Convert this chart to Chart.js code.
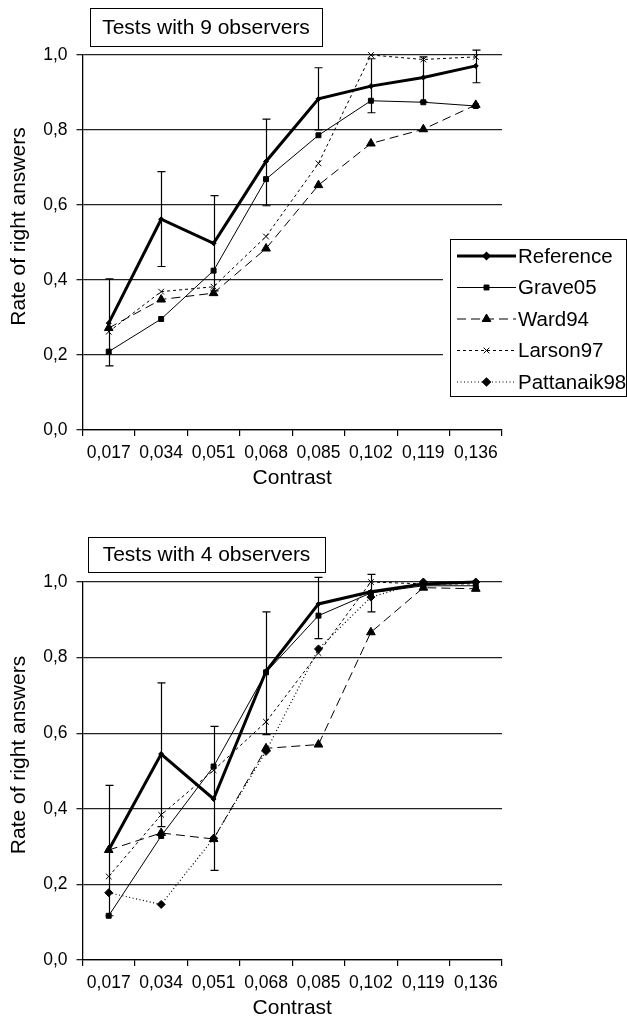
<!DOCTYPE html>
<html>
<head>
<meta charset="utf-8">
<script src="https://cdn.jsdelivr.net/npm/chart.js@4.4.1/dist/chart.umd.min.js"></script>
<style>
  html, body { margin: 0; padding: 0; background: #fff; }
  #wrap { position: relative; width: 627px; height: 1021px; overflow: hidden; }
  canvas { position: absolute; left: 0; }
</style>
</head>
<body>
<div id="wrap">
  <canvas id="chart9" width="627" height="491" style="top:0"></canvas>
  <canvas id="chart4" width="627" height="530" style="top:491px"></canvas>
</div>
<script>
// categories and tick labels
const contrast = ['0,017', '0,034', '0,051', '0,068', '0,085', '0,102', '0,119', '0,136']
const yTickLabels = ['0,0', '0,2', '0,4', '0,6', '0,8', '1,0']

// tests with 9 observers
const ref9 = [0.285, 0.562, 0.498, 0.716, 0.883, 0.917, 0.940, 0.971]
const ref9Low = [0.171, 0.436, 0.371, 0.598, 0.800, 0.846, 0.875, 0.926]
const ref9High = [0.403, 0.689, 0.625, 0.829, 0.966, 0.990, 0.995, 1.013]
const grave9 = [0.209, 0.296, 0.425, 0.669, 0.786, 0.878, 0.874, 0.864]
const ward9 = [0.272, 0.348, 0.365, 0.484, 0.653, 0.764, 0.802, 0.867]
const larson9 = [0.262, 0.369, 0.382, 0.516, 0.711, 1.000, 0.988, 0.995]
const pattanaik9 = [null, null, null, null, null, null, null, null]

// tests with 4 observers
const ref4 = [0.291, 0.545, 0.426, 0.764, 0.942, 0.974, 0.995, 1.000]
const ref4Low = [0.117, 0.353, 0.237, 0.596, 0.850, 0.921, null, null]
const ref4High = [0.462, 0.733, 0.618, 0.921, 1.012, 1.020, null, null]
const grave4 = [0.117, 0.328, 0.512, 0.761, 0.911, 0.971, 0.990, 0.990]
const ward4 = [0.291, 0.336, 0.320, 0.560, 0.570, 0.867, 0.985, 0.982]
const larson4 = [0.221, 0.384, 0.502, 0.630, 0.812, 1.000, 0.995, 0.995]
const pattanaik4 = [0.178, 0.147, 0.322, 0.552, 0.823, 0.960, 1.000, 1.000]

const FONT = '"Liberation Sans", Arial, sans-serif'
Chart.defaults.font.family = FONT
Chart.defaults.font.size = 17.5
Chart.defaults.color = '#000'

// vertical error bars with caps on the Reference series
const errorBars = {
  id: 'errorBars',
  afterDatasetsDraw(chart, args, opts) {
    if (!opts.low) return
    const { ctx, scales: { x, y } } = chart
    ctx.save()
    ctx.strokeStyle = '#000'
    ctx.lineWidth = 1.2
    opts.low.forEach((lo, i) => {
      const hi = opts.high[i]
      if (lo == null || hi == null) return
      const px = Math.round(x.getPixelForValue(i)) + 0.5
      const y1 = y.getPixelForValue(lo)
      const y2 = y.getPixelForValue(hi)
      ctx.beginPath()
      ctx.moveTo(px, y1); ctx.lineTo(px, y2)
      ctx.moveTo(px - 4, y1); ctx.lineTo(px + 4, y1)
      ctx.moveTo(px - 4, y2); ctx.lineTo(px + 4, y2)
      ctx.stroke()
    })
    ctx.restore()
  }
}

// framed title in the top-left corner, plus the rotated y axis title
const boxTitle = {
  id: 'boxTitle',
  afterDraw(chart, args, opts) {
    if (!opts.text) return
    const ctx = chart.ctx
    const [x1, y1, x2, y2] = opts.box
    ctx.save()
    ctx.fillStyle = '#fff'
    ctx.fillRect(x1, y1, x2 - x1, y2 - y1)
    ctx.strokeStyle = '#000'
    ctx.lineWidth = 1
    ctx.strokeRect(x1 + 0.5, y1 + 0.5, x2 - x1, y2 - y1)
    ctx.fillStyle = '#000'
    ctx.font = '21px ' + FONT
    ctx.textAlign = 'center'
    ctx.textBaseline = 'middle'
    ctx.fillText(opts.text, (x1 + x2) / 2, (y1 + y2) / 2 + 1)

    // y axis title sits a little above the middle of the plot
    const area = chart.chartArea
    ctx.translate(19, (area.top + area.bottom) / 2 - 16)
    ctx.rotate(-Math.PI / 2)
    ctx.fillText(opts.yTitle, 0, 0)
    ctx.restore()
  }
}

// framed legend drawn over the plot
const boxLegend = {
  id: 'boxLegend',
  afterDraw(chart, args, opts) {
    if (!opts.box) return
    const ctx = chart.ctx
    const [x1, y1, x2, y2] = opts.box
    ctx.save()
    ctx.fillStyle = '#fff'
    ctx.fillRect(x1 - 7, y1, x2 - x1 + 7, y2 - y1)
    ctx.strokeStyle = '#000'
    ctx.lineWidth = 1
    ctx.strokeRect(x1 + 0.5, y1 + 0.5, x2 - x1 - 1, y2 - y1)
    ctx.font = '20.5px ' + FONT
    ctx.textAlign = 'left'
    ctx.textBaseline = 'middle'
    chart.data.datasets.forEach((ds, i) => {
      const yy = opts.rowTop + i * opts.rowStep
      ctx.strokeStyle = '#000'
      ctx.fillStyle = '#000'
      ctx.lineWidth = ds.borderWidth
      ctx.setLineDash(ds.borderDash || [])
      ctx.beginPath()
      ctx.moveTo(x1 + 7, yy); ctx.lineTo(x1 + 66, yy)
      ctx.stroke()
      ctx.setLineDash([])
      Chart.helpers.drawPoint(ctx, {
        pointStyle: ds.pointStyle, radius: ds.pointRadius, borderWidth: 1, rotation: 0
      }, x1 + 36.5, yy)
      ctx.fillText(ds.label, x1 + 68, yy + 1)
    })
    ctx.restore()
  }
}

function makeDatasets(ref, grave, ward, larson, pattanaik) {
  const base = { borderColor: '#000', backgroundColor: '#000', pointBorderColor: '#000',
    pointBackgroundColor: '#000', tension: 0, clip: false, pointBorderWidth: 1 }
  return [
    { ...base, label: 'Reference', data: ref, borderWidth: 3, pointStyle: 'rectRot', pointRadius: 2.5 },
    { ...base, label: 'Grave05', data: grave, borderWidth: 1, pointStyle: 'rect', pointRadius: 3.5 },
    { ...base, label: 'Ward94', data: ward, borderWidth: 1, borderDash: [9, 5], pointStyle: 'triangle', pointRadius: 5 },
    { ...base, label: 'Larson97', data: larson, borderWidth: 1, borderDash: [3, 3], pointStyle: 'crossRot', pointRadius: 4 },
    { ...base, label: 'Pattanaik98', data: pattanaik, borderWidth: 1.2, borderDash: [1, 2.5], pointStyle: 'rectRot', pointRadius: 4 }
  ]
}

function makeOptions(padTop, extraPlugins) {
  return {
    responsive: false,
    animation: false,
    layout: { padding: { top: padTop, right: 125, left: 0, bottom: 0 } },
    plugins: {
      legend: { display: false },
      tooltip: { enabled: false },
      ...extraPlugins
    },
    scales: {
      x: {
        offset: true,
        grid: { display: true, drawOnChartArea: false, offset: true, tickLength: 6, color: '#000', lineWidth: 1.2 },
        border: { display: true, color: '#000', width: 1.3 },
        ticks: { padding: 6.5, maxRotation: 0, autoSkip: false },
        title: { display: true, text: 'Contrast', font: { size: 21 }, padding: { top: 0, bottom: 0.5 } },
        afterFit: (scale) => { scale.height = 61 }
      },
      y: {
        min: 0,
        max: 1,
        ticks: { stepSize: 0.2, padding: 9, callback: (v, i) => yTickLabels[i] },
        grid: { color: '#222', lineWidth: 1.3, tickLength: 6 },
        border: { display: true, color: '#000', width: 1.3 },
        afterFit: (scale) => { scale.width = 82.5 }
      }
    }
  }
}

new Chart(document.getElementById('chart9'), {
  type: 'line',
  data: { labels: contrast, datasets: makeDatasets(ref9, grave9, ward9, larson9, pattanaik9) },
  options: makeOptions(55, {
    errorBars: { low: ref9Low, high: ref9High },
    boxTitle: { text: 'Tests with 9 observers', yTitle: 'Rate of right answers', box: [90, 8, 322, 46] },
    boxLegend: { box: [450, 239, 627, 396], rowTop: 256, rowStep: 31.5 }
  }),
  plugins: [errorBars, boxTitle, boxLegend]
})

new Chart(document.getElementById('chart4'), {
  type: 'line',
  data: { labels: contrast, datasets: makeDatasets(ref4, grave4, ward4, larson4, pattanaik4) },
  options: makeOptions(91, {
    errorBars: { low: ref4Low, high: ref4High },
    boxTitle: { text: 'Tests with 4 observers', yTitle: 'Rate of right answers', box: [88, 46, 325, 81] }
  }),
  plugins: [errorBars, boxTitle, boxLegend]
})
</script>
</body>
</html>
